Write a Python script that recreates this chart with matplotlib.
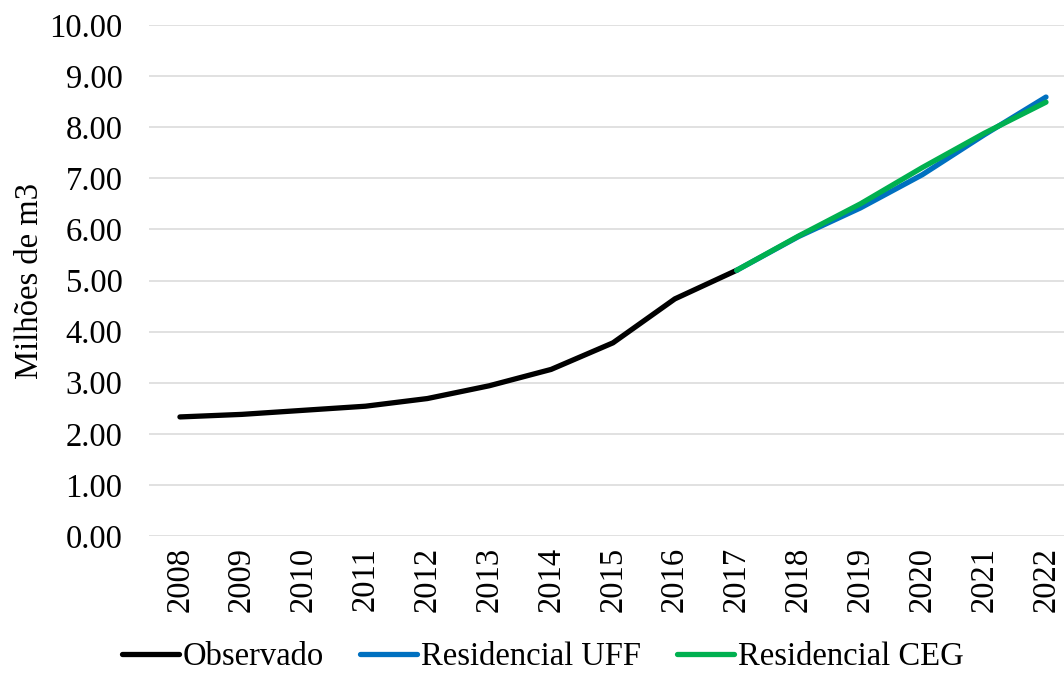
import numpy as np
import matplotlib
matplotlib.use("Agg")
import matplotlib.pyplot as plt

# data (millions of m3)
years       = ["2008", "2009", "2010", "2011", "2012", "2013", "2014", "2015",
               "2016", "2017", "2018", "2019", "2020", "2021", "2022"]
observado   = [2.33, 2.38, 2.46, 2.54, 2.69, 2.94, 3.26, 3.78, 4.64, 5.20]
res_uff     = [5.20, 5.86, 6.42, 7.07, 7.85, 8.59]
res_ceg     = [5.20, 5.87, 6.50, 7.21, 7.88, 8.49]
yticks      = [0, 1, 2, 3, 4, 5, 6, 7, 8, 9, 10]

plt.rcParams['font.family'] = ['Liberation Serif', 'DejaVu Serif']
plt.rcParams['font.size'] = 23.5

fig = plt.figure(figsize=(10.64, 6.73), dpi=100)
ax = fig.add_axes([149 / 1064, 1 - 536 / 673, 915 / 1064, 511 / 673])

x = np.arange(len(years))
n_obs = len(observado)
ax.plot(x[:n_obs], observado, color='black', lw=3.8, solid_capstyle='round',
        label='Observado', zorder=3)
ax.plot(x[n_obs - 1:], res_uff, color='#0070C0', lw=3.8, solid_capstyle='round',
        label='Residencial UFF', zorder=4)
ax.plot(x[n_obs - 1:], res_ceg, color='#00B050', lw=3.8, solid_capstyle='round',
        label='Residencial CEG', zorder=5)

ax.set_xlim(-0.5, len(years) - 1 + 18 / 61.86)
ax.set_ylim(0, 10)
ax.set_yticks(yticks)
ax.set_yticklabels([f"{v:.2f}" for v in yticks])
ax.set_xticks(x)
ax.set_xticklabels(years, rotation=90)

ax.grid(axis='y', color='#D9D9D9', lw=1.1)
ax.set_axisbelow(True)
for s in ax.spines.values():
    s.set_visible(False)
ax.tick_params(axis='y', length=0, pad=19)
ax.tick_params(axis='x', length=0, pad=8)

fig.text(30 / 1064, 1 - 281 / 673, 'Milhões de m3', rotation=90,
         ha='center', va='center')

fig.legend(loc='center', bbox_to_anchor=(543 / 1064, 1 - 657 / 673),
           ncol=3, frameon=False, handlelength=1.75, handletextpad=0.12,
           columnspacing=1.1, borderaxespad=0, borderpad=0)

fig.savefig('out.png', dpi=100)
